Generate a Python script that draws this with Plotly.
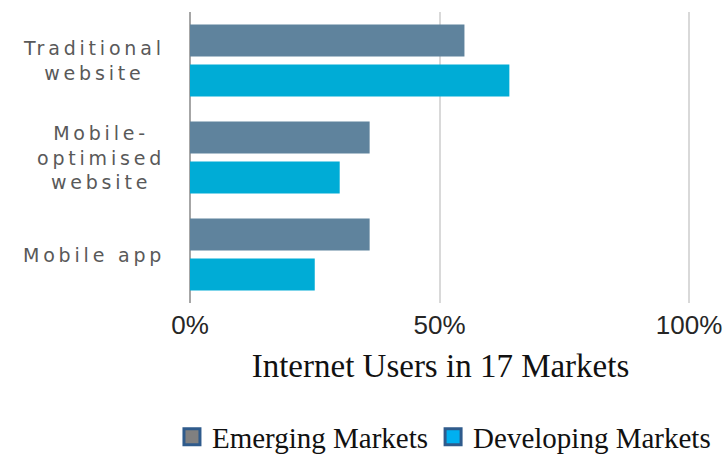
import plotly.graph_objects as go

categories = ["Traditional website", "Mobile-optimised website", "Mobile app"]
category_labels = ["Traditional<br>website", "Mobile-<br>optimised<br>website", "Mobile app"]
emerging = [55, 36, 36]
developing = [64, 30, 25]
series_names = ["Emerging Markets", "Developing Markets"]
tick_values = [0, 50, 100]
tick_labels = ["0%", "50%", "100%"]
x_title = "Internet Users in 17 Markets"

bar_colors = ["#5f839d", "#00acd6"]
legend_fill = ["#808080", "#00b0f0"]
legend_edge = "#2f5b8c"

fig = go.Figure()
for name, vals, col in zip(series_names, [emerging, developing], bar_colors):
    fig.add_trace(go.Bar(
        y=categories, x=vals, name=name, orientation="h",
        marker=dict(color=col, line=dict(width=0)),
        showlegend=False,
    ))
for name, fill in zip(series_names, legend_fill):
    fig.add_trace(go.Scatter(
        x=[None], y=[None], mode="markers", name=name,
        marker=dict(symbol="square", size=16, color=fill,
                    line=dict(color=legend_edge, width=3)),
        showlegend=True,
    ))

def spaced(label):
    lines = label.split("<br>")
    return "<br>".join(
        f"<span style='letter-spacing:3.8px'>{ln}</span>" for ln in lines)

for cat, lab in zip(categories, category_labels):
    fig.add_annotation(
        x=-0.045, xref="paper", y=cat, yref="y",
        text=spaced(lab), showarrow=False,
        xanchor="right", yanchor="middle", align="center",
        font=dict(family="DejaVu Sans", size=19, color="#595959"),
    )

fig.update_layout(
    width=727, height=455,
    margin=dict(l=190, r=36, t=12, b=152, autoexpand=False),
    paper_bgcolor="white", plot_bgcolor="white",
    barmode="group", bargap=0.175, bargroupgap=0.2,
    showlegend=True,
    legend=dict(
        orientation="h",
        x=-0.036, xanchor="left", y=-0.46, yanchor="middle",
        font=dict(family="Liberation Serif", size=29, color="#111111"),
        itemsizing="trace", traceorder="normal",
        bgcolor="rgba(0,0,0,0)",
    ),
    xaxis=dict(
        range=[0, 100.4], tickmode="array", tickvals=tick_values, ticktext=tick_labels,
        showgrid=True, gridcolor="#d9d9d9", gridwidth=2,
        zeroline=True, zerolinecolor="#a6a6a6", zerolinewidth=2,
        showline=False, ticks="", ticklabelstandoff=4, automargin=False,
        tickfont=dict(family="Liberation Sans", size=26, color="#262626"),
        title=dict(text=x_title, standoff=14,
                   font=dict(family="Liberation Serif", size=33, color="#111111")),
        fixedrange=True,
    ),
    yaxis=dict(
        type="category", categoryorder="array", categoryarray=categories,
        range=[2.5, -0.5], showticklabels=False, showgrid=False,
        zeroline=False, showline=False, ticks="", automargin=False,
        fixedrange=True,
    ),
)

fig.write_html("out.html")
